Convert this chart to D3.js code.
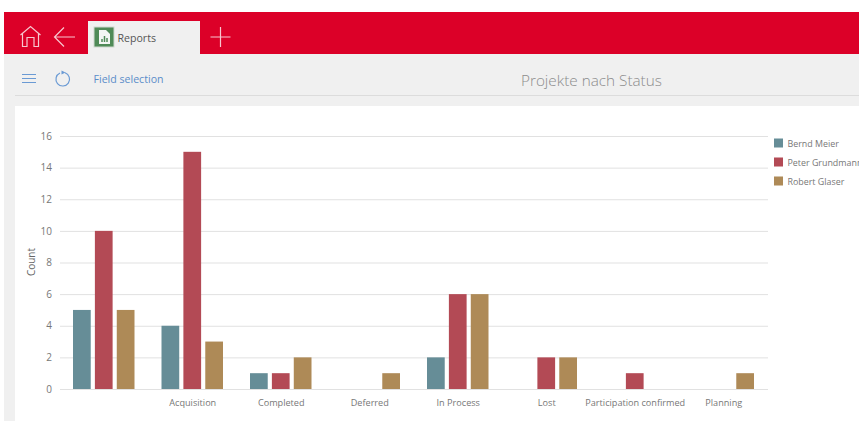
<!DOCTYPE html>
<html>
<head>
<meta charset="utf-8">
<script src="https://cdn.jsdelivr.net/npm/d3@7"></script>
<style>
  html, body { margin: 0; padding: 0; background: #fff; overflow: hidden; }
  text { font-family: "Open Sans", sans-serif; }
</style>
</head>
<body>
<div id="chart"></div>
<script>
var categories = ["", "Acquisition", "Completed", "Deferred", "In Process", "Lost", "Participation confirmed", "Planning"];
var seriesNames = ["Bernd Meier", "Peter Grundmann", "Robert Glaser"];
var berndMeier = [5, 4, 1, 0, 2, 0, 0, 0];
var peterGrundmann = [10, 15, 1, 0, 6, 2, 1, 0];
var robertGlaser = [5, 3, 2, 1, 6, 2, 0, 1];
var yTicks = [0, 2, 4, 6, 8, 10, 12, 14, 16];
var colors = ["#668d97", "#b34a55", "#ae8a57"];

var seriesValues = [berndMeier, peterGrundmann, robertGlaser];

var svgWidth = 859;
var svgHeight = 421;
var margin = { top: 136, right: 91, bottom: 32, left: 60 };
var chartWidth = svgWidth - margin.left - margin.right;
var chartHeight = svgHeight - margin.top - margin.bottom;

var svg = d3.select("#chart")
  .append("svg")
  .attr("width", svgWidth)
  .attr("height", svgHeight)
  .style("display", "block");

// App chrome behind the chart
svg.append("rect").attr("x", 4).attr("y", 54).attr("width", 855).attr("height", 367).attr("fill", "#f0f0f0");
svg.append("rect").attr("x", 4).attr("y", 12).attr("width", 855).attr("height", 42).attr("fill", "#dc0028");
svg.append("rect").attr("x", 15).attr("y", 95).attr("width", 844).attr("height", 1).attr("fill", "#dcdcdc");
svg.append("rect").attr("x", 15).attr("y", 106).attr("width", 844).attr("height", 315).attr("fill", "#fff");

// Home icon
svg.append("path")
  .attr("d", "M20.5 35 L30.5 26.5 L40.5 35 M22.5 33.5 V46.5 H27 V37.5 H34 V46.5 H38.5 V33.5")
  .attr("fill", "none").attr("stroke", "#f7c6cf").attr("stroke-width", 1.2);
// Back arrow
svg.append("path")
  .attr("d", "M75 37 H54.5 M64 27.5 L54.5 37 L64 46.5")
  .attr("fill", "none").attr("stroke", "#f7c6cf").attr("stroke-width", 1.2);

// Tab
svg.append("rect").attr("x", 88).attr("y", 21).attr("width", 112).attr("height", 33).attr("fill", "#f0f0f0");
svg.append("rect").attr("x", 94).attr("y", 27).attr("width", 20).attr("height", 20).attr("fill", "#4f8a57").attr("stroke", "#cfd8cf");
svg.append("path").attr("d", "M99 30 H106 L110 34 V44 H99 Z").attr("fill", "#f4f6f4");
svg.append("path").attr("d", "M102 42 V39 M104.5 42 V36 M107 42 V38").attr("stroke", "#4f8a57").attr("stroke-width", 1.5);
svg.append("text").attr("x", 117.5).attr("y", 42).attr("font-size", 10.6).attr("fill", "#555").text("Reports");

// Plus
svg.append("path").attr("d", "M220.5 27 V47 M210.5 37 H230.5").attr("stroke", "#f7c6cf").attr("stroke-width", 1.2);

// Toolbar
svg.append("path").attr("d", "M22 74.5 H36 M22 78.5 H36 M22 82.5 H36").attr("stroke", "#6a9ad4").attr("stroke-width", 1.1);
svg.append("path").attr("d", "M60 73 A6.8 6.8 0 1 0 65 72.8").attr("fill", "none").attr("stroke", "#6a9ad4").attr("stroke-width", 1.2);
svg.append("path").attr("d", "M61.5 70.5 L65.5 72.5 L61.5 74.5 Z").attr("fill", "#6a9ad4");
svg.append("text").attr("x", 93.5).attr("y", 83).attr("font-size", 10.6).attr("fill", "#5b8dc9").text("Field selection");
svg.append("text").attr("x", 521).attr("y", 85.5).attr("font-size", 15.3).attr("fill", "#8c8c8c").attr("font-weight", 300).text("Projekte nach Status");

// Scales
var xScale = d3.scaleBand()
  .domain(d3.range(categories.length))
  .range([0, chartWidth]);
var seriesScale = d3.scaleBand()
  .domain(d3.range(seriesNames.length))
  .range([13, 74.5])
  .paddingInner(0.19);
var yScale = d3.scaleLinear()
  .domain([0, 16])
  .range([chartHeight, 0]);

var chartGroup = svg.append("g")
  .attr("transform", `translate(${margin.left}, ${margin.top})`);

// Grid lines and Y-axis labels
var leftAxis = d3.axisLeft(yScale).tickValues(yTicks).tickSize(-chartWidth).tickPadding(8);
var yAxis = chartGroup.append("g").call(leftAxis);
yAxis.select(".domain").remove();
yAxis.selectAll("line").attr("stroke", "#e1e1e1");
yAxis.selectAll("text").attr("font-size", 10).attr("fill", "#777");

// X-axis
var bottomAxis = d3.axisBottom(xScale).tickSize(0).tickPadding(11).tickFormat(function (i) { return categories[i]; });
var xAxis = chartGroup.append("g")
  .attr("transform", `translate(0, ${chartHeight})`)
  .call(bottomAxis);
xAxis.select(".domain").remove();
xAxis.selectAll("text").attr("font-size", 9.15).attr("fill", "#777");

// Bars
seriesValues.forEach(function (values, s) {
  chartGroup.selectAll(null)
    .data(values)
    .enter()
    .append("rect")
      .attr("x", function (d, i) { return xScale(i) + seriesScale(s); })
      .attr("y", function (d) { return yScale(d); })
      .attr("width", seriesScale.bandwidth())
      .attr("height", function (d) { return chartHeight - yScale(d); })
      .attr("fill", colors[s]);
});

// Y-axis title
svg.append("text")
  .attr("transform", "translate(34.5, 262) rotate(-90)")
  .attr("text-anchor", "middle")
  .attr("font-size", 10)
  .attr("fill", "#666")
  .text("Count");

// Legend
var legend = svg.selectAll(".legend")
  .data(seriesNames)
  .enter()
  .append("g")
  .attr("class", "legend")
  .attr("transform", function (d, i) { return `translate(774, ${138.5 + i * 19})`; });
legend.append("rect")
  .attr("width", 9).attr("height", 9)
  .attr("fill", function (d, i) { return colors[i]; });
legend.append("text")
  .attr("x", 13.5).attr("y", 8)
  .attr("font-size", 8.9).attr("fill", "#777")
  .text(function (d) { return d; });
</script>
</body>
</html>
